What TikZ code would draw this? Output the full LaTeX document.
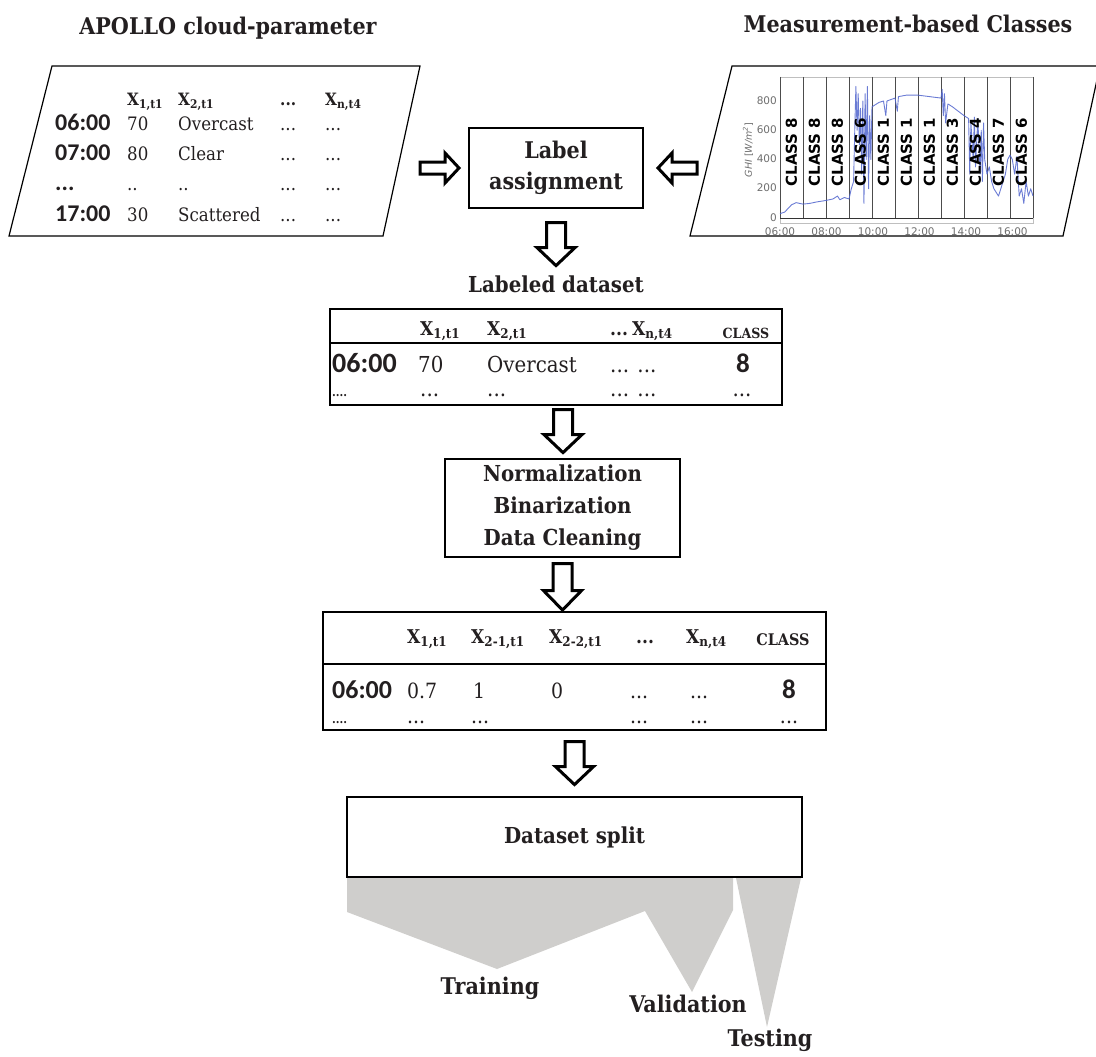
\documentclass[tikz,border=0pt]{standalone}
\usepackage{fontspec}
\setmainfont{DejaVu Serif}[FakeStretch=0.9]
\newfontfamily\calib{Carlito}
\newfontfamily\chartsans{DejaVu Sans}
\usetikzlibrary{calc}
\definecolor{splitgray}{RGB}{207,206,204}
\definecolor{ghiblue}{RGB}{80,100,205}
\definecolor{axgray}{RGB}{110,110,110}
\definecolor{txt}{RGB}{35,31,32}
\newcommand\Xs[1]{X\textsubscript{#1}}
\newcommand\fs[2]{\fontsize{#1}{#2}\selectfont}
\begin{document}
\begin{tikzpicture}[x=1pt,y=-1pt,
  box/.style={draw, line width=1.2pt, inner sep=0pt},
  blockarrow/.style={draw, line width=3pt, fill=white, line join=miter},
  title/.style={font=\bfseries\fs{23}{26}, text=txt, inner sep=0pt},
  cellA/.style={anchor=base west, inner sep=0pt, text=txt, font=\fs{18.5}{20}},
  timeA/.style={anchor=base west, inner sep=0pt, text=txt, font=\calib\bfseries\fs{24}{25}},
  headA/.style={anchor=base west, inner sep=0pt, text=txt, font=\bfseries\fs{17}{20}},
  cellB/.style={anchor=base west, inner sep=0pt, text=txt, font=\fs{22}{24}},
  timeB/.style={anchor=base west, inner sep=0pt, text=txt, font=\calib\bfseries\fs{28}{30}},
  headB/.style={anchor=base west, inner sep=0pt, text=txt, font=\bfseries\fs{19}{22}},
  clsB/.style={anchor=base, inner sep=0pt, text=txt, font=\bfseries\fs{14}{16}},
  cellC/.style={anchor=base west, inner sep=0pt, text=txt, font=\fs{21}{23}},
  timeC/.style={anchor=base west, inner sep=0pt, text=txt, font=\calib\bfseries\fs{26}{28}},
  headC/.style={anchor=base west, inner sep=0pt, text=txt, font=\bfseries\fs{19}{22}},
  clsC/.style={anchor=base, inner sep=0pt, text=txt, font=\bfseries\fs{16}{18}},
  chartcls/.style={rotate=90, inner sep=0pt, font=\chartsans\bfseries\fs{15}{16}},
  tick/.style={inner sep=0pt, text=axgray, font=\chartsans\fs{10.5}{12}},
  downarrow/.pic={\draw[blockarrow] (-9.5,0)--(9.5,0)--(9.5,25)--(19,25)--(0,43)--(-19,25)--(-9.5,25)--cycle;},
  rightarrow/.pic={\draw[blockarrow] (0,-6)--(25,-6)--(25,-15)--(39,0)--(25,15)--(25,6)--(0,6)--cycle;},
  leftarrow/.pic={\draw[blockarrow] (0,-6)--(-25,-6)--(-25,-15)--(-39,0)--(-25,15)--(-25,6)--(0,6)--cycle;}
]
\useasboundingbox (0,0) rectangle (1096,1057);

% titles
\node[title] (t1) at (228,28) {APOLLO cloud-parameter};
\node[title] (t2) at (908,24) {Measurement-based Classes};

% left parallelogram table
\draw[line width=1.2pt] (52,66) -- (420,66) -- (383,236) -- (9,236) -- cycle;
\node[headA] (ah1) at (127,106) {\Xs{1,t1}};
\node[headA] (ah2) at (178,106) {\Xs{2,t1}};
\node[headA] (ah3) at (280,106) {...};
\node[headA] (ah4) at (325,106) {\Xs{n,t4}};
\node[timeA] (ar1) at (55,130) {06:00};
\node[cellA] (a11) at (127,130) {70};
\node[cellA] (a12) at (178,130) {Overcast};
\node[cellA] (a13) at (280,130) {...};
\node[cellA] (a14) at (325,130) {...};
\node[timeA] (ar2) at (55,160) {07:00};
\node[cellA] (a21) at (127,160) {80};
\node[cellA] (a22) at (178,160) {Clear};
\node[cellA] (a23) at (280,160) {...};
\node[cellA] (a24) at (325,160) {...};
\node[timeA] (ar3) at (55,190) {...};
\node[cellA] (a31) at (127,190) {..};
\node[cellA] (a32) at (178,190) {..};
\node[cellA] (a33) at (280,190) {...};
\node[cellA] (a34) at (325,190) {...};
\node[timeA] (ar4) at (55,221) {17:00};
\node[cellA] (a41) at (127,221) {30};
\node[cellA] (a42) at (178,221) {Scattered};
\node[cellA] (a43) at (280,221) {...};
\node[cellA] (a44) at (325,221) {...};

% right parallelogram with chart
\draw[line width=1.2pt] (732,66) -- (1100,66) -- (1063,236) -- (690,236) -- cycle;
\draw[black!25, line width=0.8pt] (780,77) rectangle (1033,223);
\foreach \i in {0,...,11}{
  \draw[black!70, line width=0.9pt] ({780+23*\i},77) -- ({780+23*\i},218);
}
\draw[black!80, line width=0.9pt] (780,218) -- (1033,218);
\begin{scope}[shift={(780pt,-218pt)}, x=23pt, y=0.14625pt]
\draw[ghiblue, line width=0.9pt, line join=round, opacity=0.85] plot coordinates {
(0,30) (0.2,40) (0.5,90) (0.7,105) (1.0,95) (1.3,100) (1.6,110) (2.0,120) (2.3,130) (2.5,150) (2.6,125) (2.8,140) (3.0,130) (3.1,200) (3.2,250) (3.25,600) (3.3,900) (3.35,600) (3.4,850) (3.45,500) (3.5,750) (3.55,300) (3.6,800) (3.65,100) (3.7,850) (3.75,400) (3.8,900) (3.85,200) (3.9,700) (3.95,400) (4.0,760) (4.3,790) (4.5,800) (4.6,700) (4.65,800) (5.0,820) (5.1,730) (5.15,830) (5.5,840) (6.0,840) (6.5,830) (7.0,820) (7.05,880) (7.1,700) (7.15,850) (7.2,650) (7.3,780) (7.5,760) (8.0,700) (8.2,680) (8.25,300) (8.3,650) (8.4,400) (8.45,690) (8.5,350) (8.6,680) (8.7,300) (8.75,600) (8.8,250) (8.85,650) (8.9,400) (9.0,300) (9.1,350) (9.2,250) (9.3,200) (9.5,150) (9.6,200) (9.8,300) (9.9,400) (10.0,430) (10.1,400) (10.2,300) (10.3,420) (10.4,150) (10.5,200) (10.6,100) (10.7,250) (10.8,150) (10.9,200) (11.0,150)};
\end{scope}
\foreach \c [count=\k from 0] in {8,8,8,6,1,1,1,3,4,7,6}{
  \node[chartcls] (cls\k) at ({791.5+23*\k},152) {CLASS \c};
}
\foreach \v/\yy in {800/101,600/130,400/159,200/188,0/218}{
  \node[tick, anchor=east] (yt\v) at (777,\yy) {\v};
}
\foreach \h [count=\k from 0] in {06:00,08:00,10:00,12:00,14:00,16:00}{
  \node[tick] (xt\k) at ({780+46.5*\k},232) {\h};
}
\node[tick, rotate=90, font=\chartsans\fs{9.5}{11}] (ylab) at (748,150) {{\itshape GHI} [{\itshape W/m\textsuperscript{2}}]};

% label assignment
\node[box, minimum width=174, minimum height=80, align=center, text=txt, font=\bfseries\fs{23}{31}] (lab) at (556,168) {Label\\assignment};
\pic at (420,168) {rightarrow};
\pic at (697,168) {leftarrow};
\pic at ($(lab.south)+(0,14)$) {downarrow};
\node[title, font=\bfseries\fs{22}{26}] (ldtitle) at (556,284) {Labeled dataset};

% labeled table
\node[box, minimum width=452, minimum height=96] (ltab) at (556,357) {};
\draw[line width=1.2pt] (ltab.west |- 0,343) -- (ltab.east |- 0,343);
\node[headB] (bh1) at (420,335) {\Xs{1,t1}};
\node[headB] (bh2) at (487,335) {\Xs{2,t1}};
\node[headB] (bh3) at (610,335) {...};
\node[headB] (bh4) at (632,335) {\Xs{n,t4}};
\node[clsB] (bh5) at (746,338) {CLASS};
\node[timeB] (br1) at (332,372) {06:00};
\node[cellB] (b11) at (418,372) {70};
\node[cellB] (b12) at (487,372) {Overcast};
\node[cellB] (b13) at (610,372) {... ...};
\node[anchor=base, inner sep=0pt, text=txt, font=\calib\bfseries\fs{27}{29}] (b14) at (743,372) {8};
\node[cellB, font=\bfseries\fs{12}{14}] (br2) at (332,396) {....};
\node[cellB] (b21) at (420,396) {...};
\node[cellB] (b22) at (487,396) {...};
\node[cellB] (b23) at (610,396) {... ...};
\node[cellB, anchor=base] (b24) at (742,396) {...};

% normalization box
\pic at ($(ltab.south)+(7,4)$) {downarrow};
\node[box, minimum width=235, minimum height=98, align=center, text=txt, font=\bfseries\fs{22}{32}] (norm) at (562.5,508) {Normalization\\Binarization\\Data Cleaning};
\pic[yscale=1.08] at ($(norm.south)+(0,6)$) {downarrow};

% big table
\node[box, minimum width=503, minimum height=118] (btab) at (574.5,671) {};
\draw[line width=1.2pt] (btab.west |- 0,664) -- (btab.east |- 0,664);
\node[headC] (ch1) at (407,643) {\Xs{1,t1}};
\node[headC] (ch2) at (471,643) {\Xs{2-1,t1}};
\node[headC] (ch3) at (549,643) {\Xs{2-2,t1}};
\node[headC] (ch4) at (636,643) {...};
\node[headC] (ch5) at (686,643) {\Xs{n,t4}};
\node[clsC] (ch6) at (783,645) {CLASS};
\node[timeC] (cr1) at (332,698) {06:00};
\node[cellC] (c11) at (407,698) {0.7};
\node[cellC] (c12) at (473,698) {1};
\node[cellC] (c13) at (551,698) {0};
\node[cellC] (c14) at (630,698) {...};
\node[cellC] (c15) at (690,698) {...};
\node[anchor=base, inner sep=0pt, text=txt, font=\calib\bfseries\fs{27}{29}] (c16) at (789,698) {8};
\node[cellC, font=\bfseries\fs{12}{14}] (cr2) at (332,723) {....};
\node[cellC] (c21) at (407,723) {...};
\node[cellC] (c22) at (471,723) {...};
\node[cellC] (c24) at (630,723) {...};
\node[cellC] (c25) at (690,723) {...};
\node[cellC, anchor=base] (c26) at (789,723) {...};

% dataset split
\pic at ($(btab.south)+(0,11)$) {downarrow};
\node[box, minimum width=455, minimum height=80, text=txt, font=\bfseries\fs{22}{26}] (split) at (574.5,837) {Dataset split};
\fill[splitgray] (347,878) -- (347,912) -- (497,969) -- (645,911) -- (692,992) -- (733,910) -- (733,878) -- cycle;
\fill[splitgray] (736,878) -- (801,878) -- (767,1027) -- cycle;
\node[title] (train) at (490,988) {Training};
\node[title] (valid) at (688,1004) {Validation};
\node[title] (test) at (770,1040) {Testing};
\end{tikzpicture}
\end{document}
